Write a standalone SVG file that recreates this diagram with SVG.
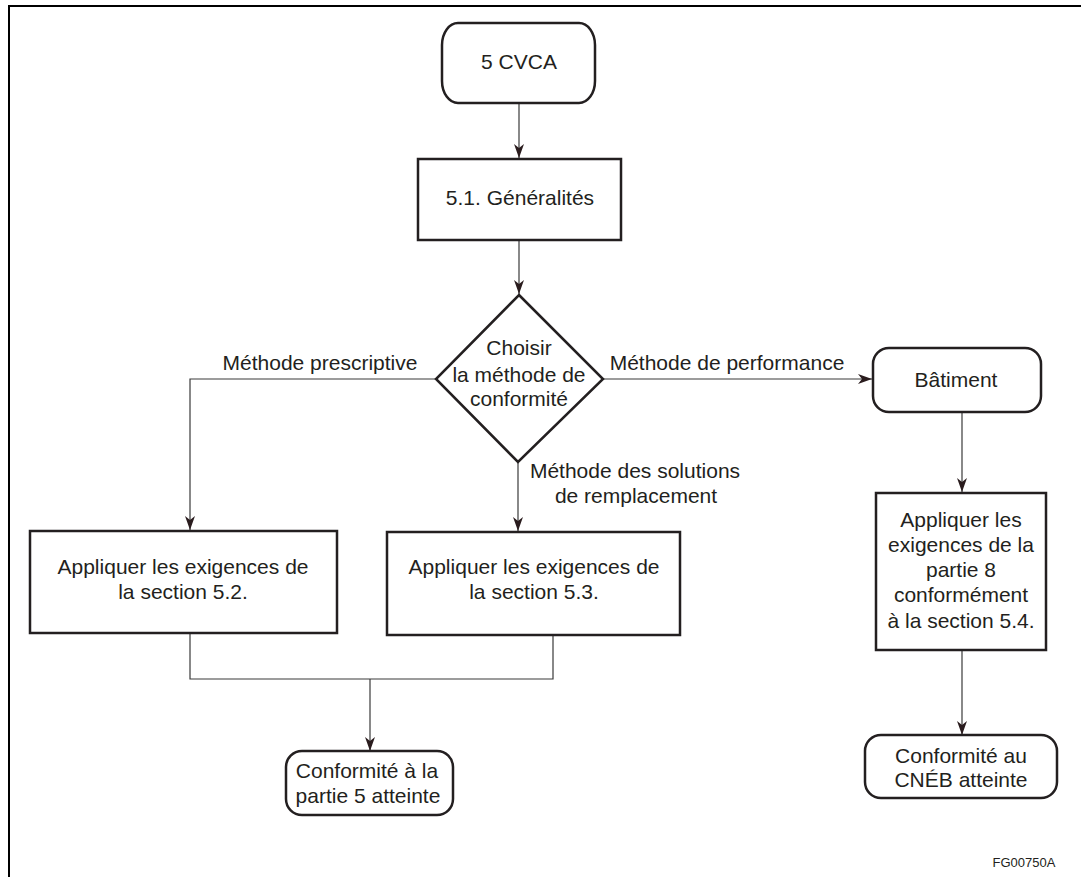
<svg xmlns="http://www.w3.org/2000/svg" width="1081" height="877" viewBox="0 0 1081 877">
<style>
.n{fill:#fff;stroke:#231f20;stroke-width:2.5}
.t{font-family:"Liberation Sans",Arial,sans-serif;font-size:21px;fill:#231f20;text-anchor:middle}
.c{fill:none;stroke:#3a3a3a;stroke-width:1.2}
</style>
<defs>
<marker id="ah" viewBox="0 0 14 10" refX="14" refY="5" markerWidth="14" markerHeight="10" markerUnits="userSpaceOnUse" orient="auto">
<path d="M0,0 L14,5 L0,10 L4,5 Z" fill="#2a1c1e"/>
</marker>
</defs>
<rect width="1081" height="877" fill="#fff"/>
<path d="M9,877 V6 H1081" fill="none" stroke="#000" stroke-width="2"/>
<g id="connectors">
<path class="c" d="M519,103 V158" marker-end="url(#ah)"/>
<path class="c" d="M519,240 V294" marker-end="url(#ah)"/>
<path class="c" d="M436,379 H190 V530" marker-end="url(#ah)"/>
<path class="c" d="M518,462 V531" marker-end="url(#ah)"/>
<path class="c" d="M603,379 H872" marker-end="url(#ah)"/>
<path class="c" d="M962,412 V492" marker-end="url(#ah)"/>
<path class="c" d="M962,650 V735" marker-end="url(#ah)"/>
<path class="c" d="M190,633 V679 H553 V635"/>
<path class="c" d="M370,679 V751" marker-end="url(#ah)"/>
<text class="t" x="320" y="370">Méthode prescriptive</text>
<text class="t" x="727" y="370">Méthode de performance</text>
<text class="t" x="635" y="478">Méthode des solutions</text>
<text class="t" x="636" y="503">de remplacement</text>
</g>
<g id="n-cvca">
<rect class="n" x="442" y="23" width="153" height="80" rx="16" ry="22"/>
<text class="t" x="519" y="69">5 CVCA</text>
</g>
<g id="n-generalites">
<rect class="n" x="418" y="159" width="203" height="81"/>
<text class="t" x="520" y="205">5.1. Généralités</text>
</g>
<g id="n-choisir">
<polygon class="n" points="519,295 603,379 518,462 436,379"/>
<text class="t" x="519" y="355">Choisir</text>
<text class="t" x="519" y="382">la méthode de</text>
<text class="t" x="519" y="406">conformité</text>
</g>
<g id="n-batiment">
<rect class="n" x="873" y="348" width="168" height="64" rx="16" ry="16"/>
<text class="t" x="956" y="387">Bâtiment</text>
</g>
<g id="n-s52">
<rect class="n" x="30" y="531" width="307" height="102"/>
<text class="t" x="183" y="574">Appliquer les exigences de</text>
<text class="t" x="183" y="599">la section 5.2.</text>
</g>
<g id="n-s53">
<rect class="n" x="387" y="532" width="293" height="103"/>
<text class="t" x="534" y="574">Appliquer les exigences de</text>
<text class="t" x="534" y="599">la section 5.3.</text>
</g>
<g id="n-s54">
<rect class="n" x="876" y="493" width="170" height="157"/>
<text class="t" x="961" y="527">Appliquer les</text>
<text class="t" x="961" y="552">exigences de la</text>
<text class="t" x="961" y="577">partie 8</text>
<text class="t" x="961" y="602">conformément</text>
<text class="t" x="961" y="628">à la section 5.4.</text>
</g>
<g id="n-partie5">
<rect class="n" x="286" y="751" width="167" height="64" rx="16" ry="16"/>
<text class="t" x="367" y="778">Conformité à la</text>
<text class="t" x="368" y="803">partie 5 atteinte</text>
</g>
<g id="n-cneb">
<rect class="n" x="865" y="735" width="192" height="63" rx="16" ry="16"/>
<text class="t" x="961" y="763">Conformité au</text>
<text class="t" x="961" y="787">CNÉB atteinte</text>
</g>
<text x="1024" y="867" font-family="Liberation Sans, Arial, sans-serif" font-size="13" fill="#231f20" text-anchor="middle">FG00750A</text>
</svg>
